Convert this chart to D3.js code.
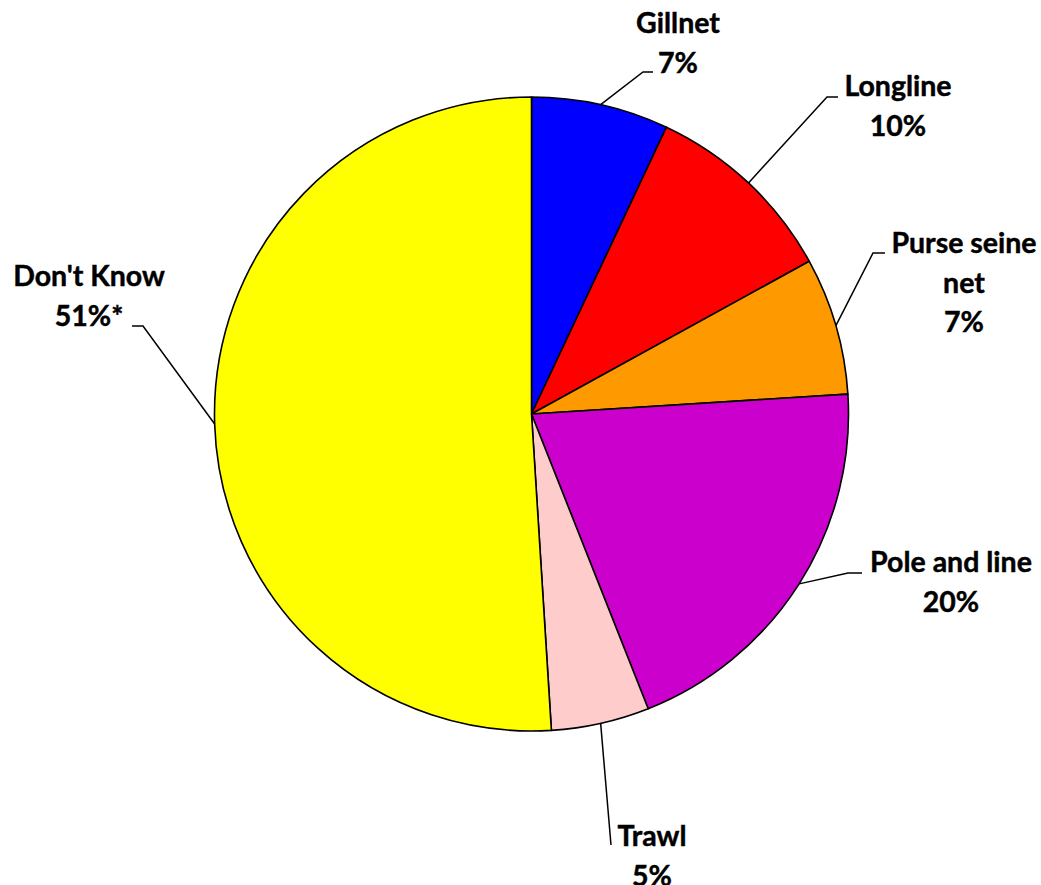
<!DOCTYPE html>
<html>
<head>
<meta charset="utf-8">
<script src="https://cdn.jsdelivr.net/npm/d3@7"></script>
<style>
  html, body { margin: 0; padding: 0; background: #fff; }
  svg { display: block; }
  text { font-family: Lato, "Open Sans", sans-serif; font-weight: 700; fill: #000; stroke: #000; stroke-width: 0.45px; }
</style>
</head>
<body>
<svg id="chart" width="1041" height="885"></svg>
<script>
// ---- data ----
const categories = ["Gillnet", "Longline", "Purse seine net", "Pole and line", "Trawl", "Don't Know"];
const values = [7, 10, 7, 20, 5, 51];
const valueLabels = ["7%", "10%", "7%", "20%", "5%", "51%*"];
const labelLines = [["Gillnet"], ["Longline"], ["Purse seine", "net"], ["Pole and line"], ["Trawl"], ["Don't Know"]];
const colors = ["#0000FF", "#FF0000", "#FF9900", "#CC00CC", "#FFCCCC", "#FFFF00"];

// ---- layout (label placement, not data) ----
const cx = 531.5, cy = 414, radius = 317;
// elbow point, end of horizontal segment, text centre x, baseline of first text line
const labelLayout = [
  { elbow: [643, 72],  end: [653, 72],  tx: 678, ty: 33 },
  { elbow: [827, 97],  end: [838, 97],  tx: 898, ty: 96 },
  { elbow: [873, 253], end: [885, 253], tx: 964, ty: 253 },
  { elbow: [848, 573], end: [862, 573], tx: 951, ty: 572 },
  { elbow: [611, 845], end: [611, 845], tx: 652, ty: 846 },
  { elbow: [143, 326], end: [132, 326], tx: 89,  ty: 286 }
];
const lineHeight = 39.5;

const svg = d3.select("#chart");
const g = svg.append("g").attr("transform", `translate(${cx},${cy})`);

const pie = d3.pie().sort(null).value(d => d.value);
const arcs = pie(values.map((v, i) => ({ value: v, i })));
const arc = d3.arc().innerRadius(0).outerRadius(radius);

g.selectAll("path.slice")
  .data(arcs)
  .join("path")
  .attr("class", "slice")
  .attr("d", arc)
  .attr("fill", d => colors[d.data.i])
  .attr("stroke", "#000")
  .attr("stroke-width", 1.6)
  .attr("stroke-linejoin", "round");

// leader lines
svg.selectAll("polyline.leader")
  .data(arcs)
  .join("polyline")
  .attr("class", "leader")
  .attr("fill", "none")
  .attr("stroke", "#000")
  .attr("stroke-width", 1.5)
  .attr("points", d => {
    const a = (d.startAngle + d.endAngle) / 2;
    const p = [cx + radius * Math.sin(a), cy - radius * Math.cos(a)];
    const L = labelLayout[d.data.i];
    return [p, L.elbow, L.end].map(q => q.join(",")).join(" ");
  });

// labels
const labels = svg.selectAll("text.label")
  .data(arcs)
  .join("text")
  .attr("class", "label")
  .attr("text-anchor", "middle")
  .attr("font-size", 28.5);

labels.each(function(d) {
  const i = d.data.i;
  const L = labelLayout[i];
  const lines = labelLines[i].concat([valueLabels[i]]);
  d3.select(this).selectAll("tspan")
    .data(lines)
    .join("tspan")
    .attr("x", L.tx)
    .attr("y", (t, k) => L.ty + k * lineHeight)
    .text(t => t);
});
</script>
</body>
</html>
